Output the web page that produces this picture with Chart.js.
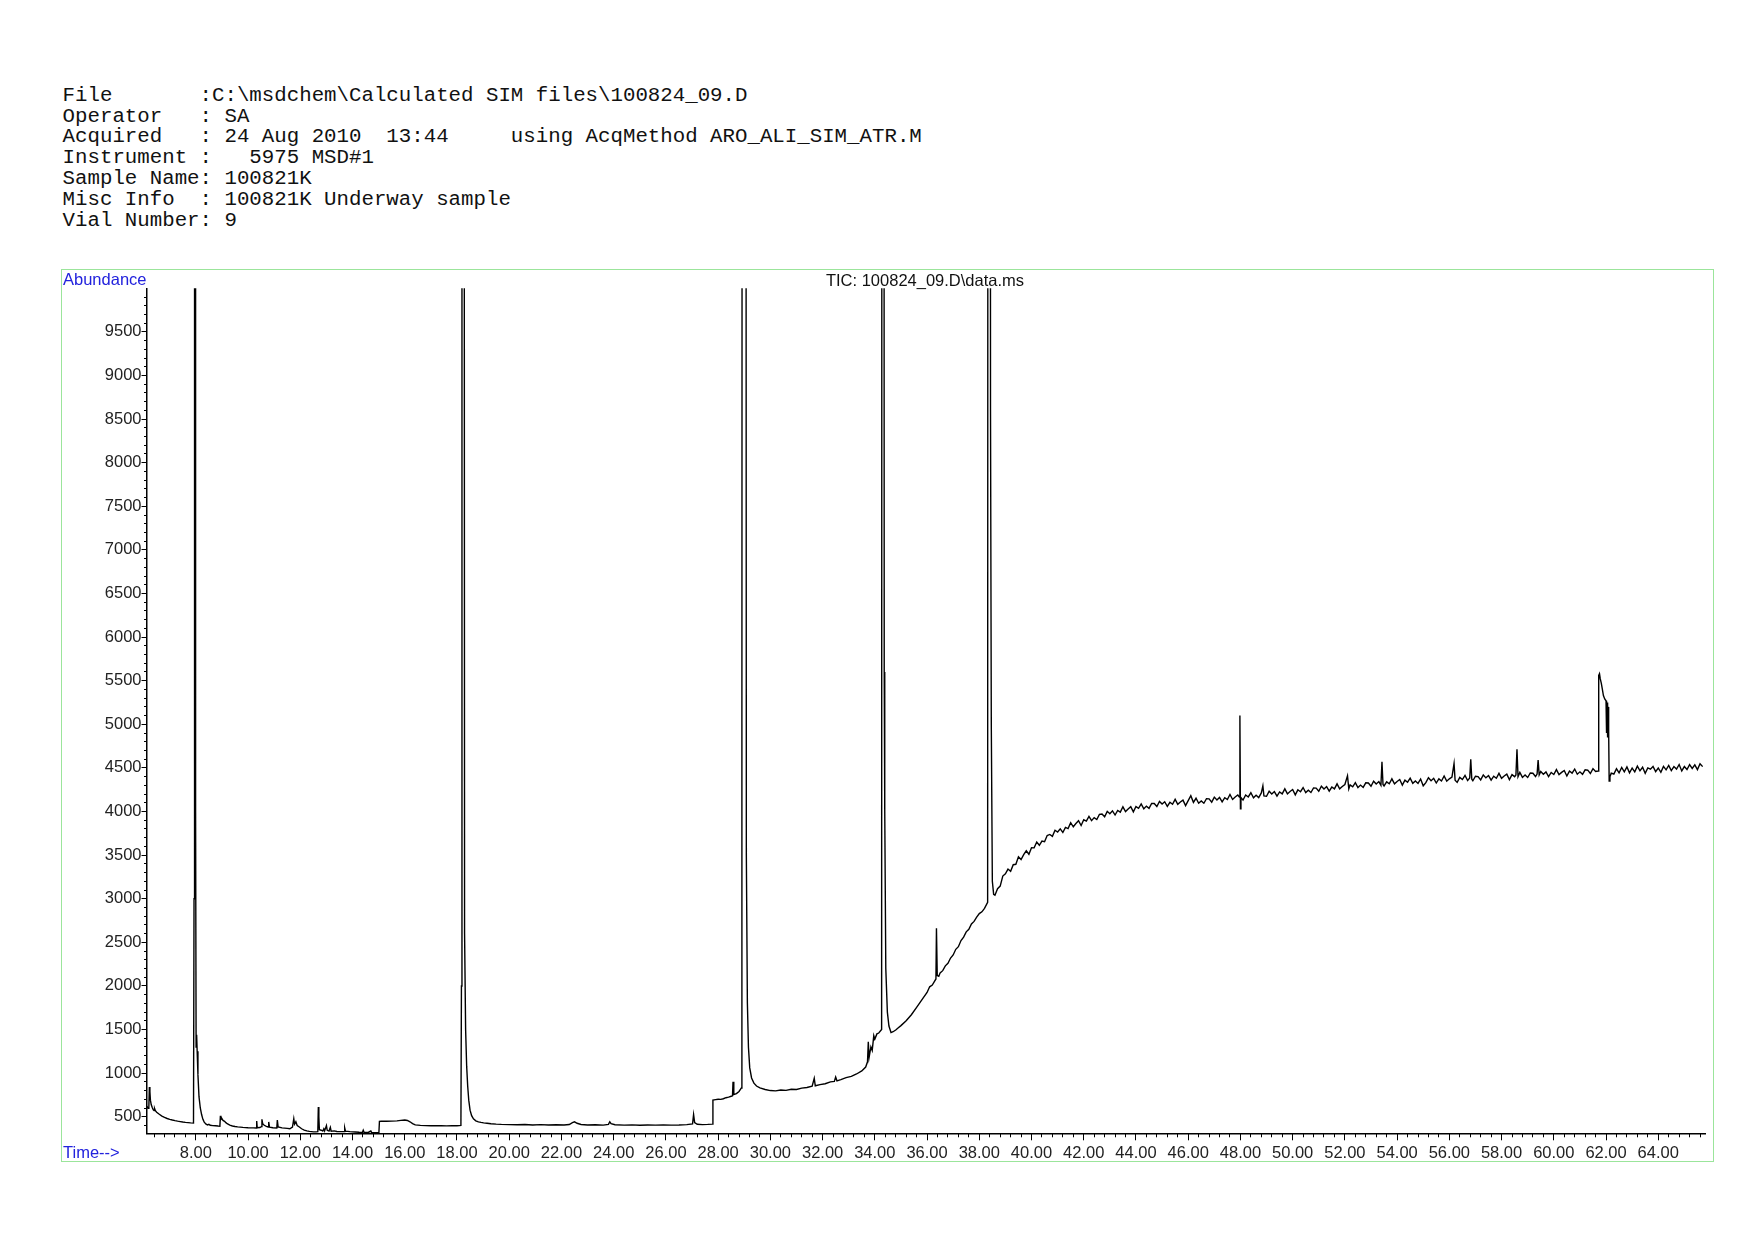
<!DOCTYPE html>
<html>
<head>
<meta charset="utf-8">
<title>TIC: 100824_09.D\data.ms</title>
<script src="https://cdn.jsdelivr.net/npm/chart.js@4.4.1/dist/chart.umd.min.js"></script>
<style>
  html, body { margin: 0; padding: 0; background: #fff; }
  body { width: 1754px; height: 1240px; position: relative; overflow: hidden; }
  #header {
    position: absolute; left: 62.6px; top: 85.7px; margin: 0;
    font-family: 'Liberation Mono', 'Courier New', monospace;
    font-size: 20.75px; line-height: 20.88px; color: #111; white-space: pre;
  }
  #frame { position: absolute; left: 61px; top: 269px; width: 1651px; height: 891px; border: 1.5px solid #9be59b; }
  .lbl { position: absolute; font-family: 'Liberation Sans', Arial, sans-serif; font-size: 16.5px; line-height: 18px; white-space: pre; }
  .blue { color: #2222dd; }
  #tic { left: 925px; top: 270.6px; transform: translateX(-50%); color: #111; }
  #chart { position: absolute; left: 0; top: 0; }
</style>
</head>
<body>
<pre id="header">File       :C:\msdchem\Calculated SIM files\100824_09.D
Operator   : SA
Acquired   : 24 Aug 2010  13:44     using AcqMethod ARO_ALI_SIM_ATR.M
Instrument :   5975 MSD#1
Sample Name: 100821K
Misc Info  : 100821K Underway sample
Vial Number: 9</pre>
<div id="frame"></div>
<canvas id="chart" width="1754" height="1240"></canvas>
<div class="lbl blue" style="left:63px; top:269.5px;">Abundance</div>
<div class="lbl" id="tic">TIC: 100824_09.D\data.ms</div>
<div class="lbl blue" style="left:63px; top:1143px;">Time--&gt;</div>

<script>
// axis ranges (minutes / abundance)
const timeMin = 6.11, timeMax = 65.79;
const abundanceMin = 310, abundanceMax = 10000;

const timeTicks = [8, 10, 12, 14, 16, 18, 20, 22, 24, 26, 28, 30, 32, 34, 36, 38, 40, 42, 44, 46,
                   48, 50, 52, 54, 56, 58, 60, 62, 64];
const abundanceTicks = [500, 1000, 1500, 2000, 2500, 3000, 3500, 4000, 4500, 5000,
                        5500, 6000, 6500, 7000, 7500, 8000, 8500, 9000, 9500];
const minorTimeStep = 0.4;
const minorAbundanceStep = 100;

// [minutes, abundance] – peaks off-scale are clipped at the top of the plot
const trace06to18 = [
  [6.11, 600], [6.14, 612], [6.17, 598], [6.2, 610], [6.22, 840], [6.24, 790], [6.26, 690], [6.29, 640],
  [6.33, 605], [6.37, 580], [6.4, 572], [6.42, 595], [6.45, 570], [6.5, 552], [6.6, 528], [6.7, 508],
  [6.8, 492], [6.9, 480], [7.0, 470], [7.1, 462], [7.2, 455], [7.3, 449], [7.4, 444], [7.5, 439],
  [7.6, 435], [7.7, 432], [7.8, 429], [7.91, 427], [7.93, 3000], [7.95, 25000], [7.97, 25000], [7.99, 4000],
  [8.01, 1300], [8.03, 1440], [8.05, 1250], [8.08, 980], [8.12, 730], [8.17, 600], [8.22, 525], [8.27, 470],
  [8.32, 438], [8.39, 415], [8.45, 406], [8.5, 412], [8.55, 402], [8.65, 398], [8.75, 396], [8.85, 393],
  [8.92, 392], [8.94, 510], [8.96, 470], [8.99, 482], [9.04, 458], [9.1, 448], [9.15, 432], [9.2, 420],
  [9.3, 404], [9.4, 394], [9.5, 388], [9.6, 384], [9.8, 378], [10.0, 374], [10.2, 372], [10.31, 371],
  [10.33, 450], [10.35, 373], [10.45, 376], [10.51, 386], [10.53, 470], [10.56, 418], [10.62, 402], [10.7, 390],
  [10.77, 382], [10.79, 440], [10.82, 380], [10.95, 373], [11.1, 370], [11.12, 462], [11.15, 384], [11.3, 372],
  [11.5, 367], [11.6, 362], [11.7, 382], [11.75, 478], [11.78, 415], [11.83, 442], [11.88, 400], [11.95, 385],
  [12.05, 362], [12.15, 347], [12.25, 338], [12.35, 332], [12.5, 326], [12.6, 326], [12.67, 328], [12.69, 612],
  [12.71, 500], [12.73, 352], [12.8, 345], [12.86, 336], [12.9, 362], [12.93, 338], [13.0, 398], [13.03, 344],
  [13.1, 336], [13.15, 378], [13.18, 334], [13.3, 338], [13.4, 331], [13.55, 329], [13.68, 331], [13.7, 372],
  [13.73, 334], [13.9, 329], [14.1, 325], [14.25, 322], [14.38, 321], [14.41, 346], [14.44, 322], [14.6, 320],
  [14.7, 336], [14.73, 320], [14.9, 318], [15.01, 320], [15.03, 448], [15.1, 450], [15.3, 449], [15.5, 450],
  [15.7, 453], [15.85, 458], [16.0, 463], [16.1, 457], [16.2, 442], [16.3, 422], [16.4, 406], [16.6, 401],
  [16.8, 398], [17.0, 397], [17.2, 396], [17.4, 398], [17.6, 395], [17.8, 396], [18.0, 397], [18.15, 400]
];

const trace18to29 = [
  [18.17, 2000], [18.19, 25000], [18.26, 25000], [18.29, 2600], [18.33, 1500], [18.37, 1080], [18.41, 850],
  [18.45, 690], [18.5, 575], [18.56, 512], [18.63, 476], [18.72, 453], [18.82, 441], [18.92, 435], [19.02, 430],
  [19.15, 425], [19.3, 420], [19.5, 415], [19.7, 412], [20.0, 410], [20.3, 408], [20.6, 411], [20.9, 406],
  [21.2, 409], [21.5, 405], [21.8, 408], [22.1, 405], [22.3, 411], [22.42, 432], [22.5, 441], [22.6, 425],
  [22.75, 411], [23.0, 406], [23.3, 408], [23.6, 404], [23.8, 413], [23.85, 442], [23.9, 420], [24.05, 408],
  [24.4, 404], [24.7, 407], [25.0, 403], [25.3, 406], [25.6, 404], [25.9, 407], [26.2, 404], [26.5, 405],
  [26.8, 409], [27.02, 418], [27.06, 525], [27.1, 432], [27.2, 413], [27.4, 410], [27.6, 412], [27.78, 415],
  [27.8, 690], [27.9, 696], [28.0, 701], [28.1, 699], [28.2, 706], [28.3, 718], [28.4, 725], [28.5, 735],
  [28.55, 740], [28.57, 900], [28.6, 755], [28.7, 765], [28.8, 790], [28.89, 830]
];

const trace29to39 = [
  [28.91, 5000], [28.93, 25000], [29.05, 25000], [29.08, 3500], [29.12, 1800], [29.16, 1300], [29.21, 1060],
  [29.28, 945], [29.37, 885], [29.47, 852], [29.6, 830], [29.8, 812], [30.0, 800], [30.2, 796], [30.4, 806],
  [30.6, 802], [30.8, 815], [31.0, 812], [31.2, 828], [31.4, 835], [31.6, 850], [31.68, 940], [31.72, 855],
  [31.9, 868], [32.1, 878], [32.3, 900], [32.45, 905], [32.5, 955], [32.55, 912], [32.7, 925], [32.9, 948],
  [33.1, 962], [33.3, 990], [33.5, 1025], [33.65, 1070], [33.72, 1130], [33.75, 1360], [33.78, 1180],
  [33.85, 1300], [33.9, 1260], [33.96, 1430], [34.0, 1390], [34.08, 1450], [34.15, 1460], [34.26, 1500],
  [34.28, 25000], [34.34, 25000], [34.36, 5600], [34.38, 4000], [34.42, 2200], [34.48, 1700], [34.54, 1540],
  [34.62, 1465], [34.7, 1475], [34.8, 1495], [34.9, 1520], [35.0, 1545], [35.2, 1600], [35.4, 1670],
  [35.6, 1755], [35.8, 1840], [36.0, 1925], [36.1, 1990], [36.2, 2010], [36.34, 2080], [36.36, 2660],
  [36.39, 2120], [36.45, 2110], [36.5, 2150], [36.6, 2175], [36.7, 2230], [36.8, 2260], [36.9, 2320],
  [37.0, 2355], [37.1, 2420], [37.2, 2450], [37.3, 2520], [37.4, 2560], [37.5, 2620], [37.6, 2650],
  [37.7, 2710], [37.8, 2740], [37.9, 2790], [38.0, 2830], [38.1, 2850], [38.2, 2890], [38.32, 2960],
  [38.34, 25000], [38.41, 25000], [38.43, 8600], [38.46, 5000], [38.5, 3200], [38.55, 3050]
];

const trace39to66 = [
  [38.6, 3040], [38.7, 3115], [38.8, 3145], [38.9, 3260], [39.0, 3285], [39.1, 3340], [39.2, 3315], [39.3, 3390],
  [39.4, 3395], [39.5, 3480], [39.6, 3450], [39.7, 3505], [39.8, 3550], [39.9, 3510], [40.0, 3585], [40.1, 3583],
  [40.2, 3650], [40.3, 3613], [40.4, 3660], [40.5, 3653], [40.6, 3725], [40.7, 3737], [40.8, 3715], [40.9, 3785],
  [41.0, 3765], [41.1, 3802], [41.2, 3760], [41.3, 3818], [41.4, 3805], [41.5, 3872], [41.6, 3825], [41.7, 3863],
  [41.8, 3895], [41.9, 3840], [42.0, 3905], [42.1, 3890], [42.2, 3945], [42.3, 3895], [42.4, 3930], [42.5, 3909],
  [42.6, 3968], [42.7, 3971], [42.8, 3940], [42.9, 4002], [43.0, 3975], [43.1, 4008], [43.2, 3960], [43.3, 4012],
  [43.4, 3993], [43.5, 4054], [43.6, 4000], [43.7, 4030], [43.8, 4055], [43.9, 3996], [44.0, 4057], [44.1, 4037],
  [44.2, 4087], [44.3, 4032], [44.4, 4062], [44.5, 4037], [44.6, 4092], [44.7, 4092], [44.8, 4057], [44.9, 4116],
  [45.0, 4085], [45.1, 4112], [45.2, 4059], [45.3, 4106], [45.4, 4083], [45.5, 4140], [45.6, 4082], [45.7, 4109],
  [45.8, 4131], [45.9, 4068], [46.0, 4125], [46.1, 4182], [46.2, 4105], [46.3, 4152], [46.4, 4095], [46.5, 4122],
  [46.6, 4095], [46.7, 4147], [46.8, 4145], [46.9, 4107], [47.0, 4165], [47.1, 4133], [47.2, 4162], [47.3, 4110],
  [47.4, 4158], [47.5, 4137], [47.6, 4195], [47.7, 4138], [47.8, 4166], [47.9, 4189], [47.96, 4165], [47.98, 5100],
  [48.0, 4030], [48.02, 4160], [48.1, 4131], [48.2, 4189], [48.3, 4167], [48.4, 4215], [48.5, 4158], [48.6, 4187],
  [48.7, 4160], [48.8, 4213], [48.86, 4295], [48.9, 4180], [49.0, 4175], [49.1, 4233], [49.2, 4201], [49.3, 4229],
  [49.4, 4177], [49.5, 4224], [49.6, 4202], [49.7, 4260], [49.8, 4202], [49.9, 4230], [50.0, 4253], [50.1, 4191],
  [50.2, 4249], [50.3, 4227], [50.4, 4275], [50.5, 4218], [50.6, 4245], [50.7, 4218], [50.8, 4271], [50.9, 4269],
  [51.0, 4232], [51.1, 4290], [51.2, 4258], [51.3, 4286], [51.4, 4233], [51.5, 4281], [51.6, 4259], [51.7, 4317],
  [51.8, 4260], [51.9, 4287], [52.0, 4310], [52.1, 4410], [52.15, 4260], [52.2, 4306], [52.3, 4284], [52.4, 4332],
  [52.5, 4275], [52.6, 4303], [52.7, 4276], [52.8, 4329], [52.9, 4327], [53.0, 4290], [53.1, 4348], [53.2, 4315],
  [53.3, 4343], [53.38, 4300], [53.42, 4570], [53.46, 4310], [53.5, 4293], [53.6, 4340], [53.7, 4318], [53.8, 4375],
  [53.9, 4318], [54.0, 4345], [54.1, 4367], [54.2, 4303], [54.3, 4360], [54.4, 4336], [54.5, 4383], [54.6, 4324],
  [54.7, 4350], [54.8, 4322], [54.9, 4373], [55.0, 4295], [55.1, 4331], [55.2, 4388], [55.3, 4354], [55.4, 4381],
  [55.5, 4327], [55.6, 4374], [55.7, 4350], [55.8, 4407], [55.9, 4348], [56.0, 4375], [56.1, 4396], [56.18, 4550],
  [56.22, 4360], [56.3, 4334], [56.4, 4391], [56.5, 4367], [56.6, 4414], [56.7, 4355], [56.78, 4385], [56.82, 4600],
  [56.86, 4370], [56.9, 4353], [57.0, 4405], [57.1, 4401], [57.2, 4363], [57.3, 4419], [57.4, 4386], [57.5, 4412],
  [57.6, 4359], [57.7, 4405], [57.8, 4382], [57.9, 4438], [58.0, 4380], [58.1, 4407], [58.2, 4429], [58.3, 4366],
  [58.4, 4423], [58.5, 4400], [58.55, 4420], [58.59, 4715], [58.63, 4400], [58.7, 4449], [58.8, 4391], [58.9, 4418],
  [59.0, 4390], [59.1, 4442], [59.2, 4439], [59.3, 4401], [59.36, 4430], [59.4, 4590], [59.44, 4420], [59.5, 4460],
  [59.6, 4427], [59.7, 4454], [59.8, 4401], [59.9, 4448], [60.0, 4425], [60.1, 4481], [60.2, 4423], [60.3, 4449],
  [60.4, 4471], [60.5, 4407], [60.6, 4464], [60.7, 4440], [60.8, 4487], [60.9, 4428], [61.0, 4455], [61.1, 4426],
  [61.2, 4478], [61.3, 4474], [61.4, 4436], [61.5, 4492], [61.6, 4459], [61.7, 4465], [61.72, 5560], [61.75, 5580],
  [61.78, 5520], [61.82, 5470], [61.86, 5400], [61.9, 5330], [61.95, 5290], [62.0, 5270], [62.02, 4900], [62.04, 5250],
  [62.06, 4850], [62.08, 5200], [62.1, 4950], [62.12, 4350], [62.15, 4400], [62.2, 4440], [62.3, 4430], [62.4, 4490],
  [62.5, 4443], [62.6, 4505], [62.7, 4456], [62.8, 4512], [62.9, 4443], [63.0, 4499], [63.1, 4455], [63.2, 4521],
  [63.3, 4467], [63.4, 4508], [63.5, 4439], [63.6, 4500], [63.7, 4486], [63.8, 4517], [63.9, 4458], [64.0, 4499],
  [64.1, 4450], [64.2, 4517], [64.3, 4478], [64.4, 4529], [64.5, 4470], [64.6, 4516], [64.7, 4487], [64.8, 4539],
  [64.9, 4465], [65.0, 4516], [65.1, 4482], [65.2, 4538], [65.3, 4494], [65.4, 4535], [65.5, 4481], [65.6, 4548],
  [65.7, 4515]
];

const trace = [...trace06to18, ...trace18to29, ...trace29to39, ...trace39to66]
  .map(([t, a]) => ({ x: t, y: a }));

function minorTicks(min, max, step) {
  const ticks = [];
  for (let v = Math.ceil(min / step) * step; v <= max; v += step) {
    ticks.push({ value: Math.round(v * 1000) / 1000 });
  }
  return ticks;
}

const tickFont = { family: "'Liberation Sans', Arial, sans-serif", size: 16.5 };

const ctx = document.getElementById('chart').getContext('2d');
new Chart(ctx, {
  type: 'line',
  data: {
    datasets: [{
      label: 'TIC',
      data: trace,
      borderColor: '#000',
      borderWidth: 1.4,
      pointRadius: 0,
      tension: 0,
      fill: false,
      xAxisID: 'x',
      yAxisID: 'y'
    }]
  },
  options: {
    responsive: false,
    animation: false,
    devicePixelRatio: 1,
    events: [],
    layout: { padding: { top: 288.3, right: 49, bottom: 0, left: 0 } },
    plugins: { legend: { display: false }, tooltip: { enabled: false } },
    scales: {
      xMinor: {
        type: 'linear', position: 'bottom', weight: 0,
        min: timeMin, max: timeMax,
        afterBuildTicks: axis => { axis.ticks = minorTicks(timeMin, timeMax, minorTimeStep); },
        ticks: { display: false },
        grid: { drawOnChartArea: false, drawTicks: true, tickLength: 4, tickColor: '#000', tickWidth: 1 },
        border: { display: false },
        afterFit: axis => { axis.height = 0; }
      },
      x: {
        type: 'linear', position: 'bottom', weight: 1,
        min: timeMin, max: timeMax,
        afterBuildTicks: axis => { axis.ticks = timeTicks.map(v => ({ value: v })); },
        ticks: { callback: v => v.toFixed(2), font: tickFont, color: '#222', padding: 3, maxRotation: 0, autoSkip: false },
        grid: { drawOnChartArea: false, drawTicks: true, tickLength: 7, tickColor: '#000', tickWidth: 1 },
        border: { display: true, color: '#000', width: 1.5 },
        afterFit: axis => { axis.height = 106.7; }
      },
      yMinor: {
        type: 'linear', position: 'left', weight: 0,
        min: abundanceMin, max: abundanceMax,
        afterBuildTicks: axis => { axis.ticks = minorTicks(abundanceMin, abundanceMax - 1, minorAbundanceStep); },
        ticks: { display: false },
        grid: { drawOnChartArea: false, drawTicks: true, tickLength: 2.5, tickColor: '#000', tickWidth: 1 },
        border: { display: false },
        afterFit: axis => { axis.width = 0; }
      },
      y: {
        type: 'linear', position: 'left', weight: 1,
        min: abundanceMin, max: abundanceMax,
        afterBuildTicks: axis => { axis.ticks = abundanceTicks.map(v => ({ value: v })); },
        ticks: { callback: v => String(v), font: tickFont, color: '#222', padding: 0, autoSkip: false },
        grid: { drawOnChartArea: false, drawTicks: true, tickLength: 5, tickColor: '#000', tickWidth: 1 },
        border: { display: true, color: '#000', width: 1.5 },
        afterFit: axis => { axis.width = 146.5; }
      }
    }
  }
});
</script>
</body>
</html>
